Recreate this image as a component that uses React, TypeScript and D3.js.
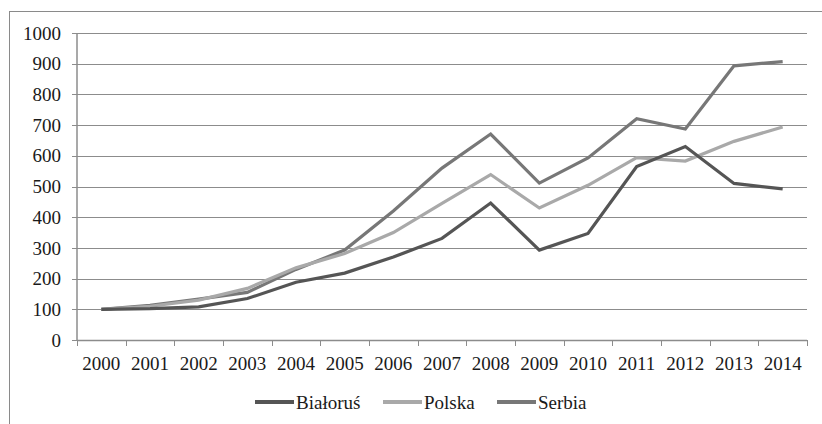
import { useEffect, useRef } from "react";
import * as d3 from "d3";

const years = ["2000", "2001", "2002", "2003", "2004", "2005", "2006", "2007", "2008", "2009", "2010", "2011", "2012", "2013", "2014"];
const bialorus = [100, 102, 108, 135, 188, 218, 270, 331, 446, 293, 347, 565, 630, 510, 492];
const polska = [100, 110, 130, 168, 235, 282, 350, 445, 539, 430, 504, 594, 583, 647, 694];
const serbia = [100, 113, 133, 155, 230, 293, 420, 560, 671, 511, 593, 721, 687, 893, 907];
const yTicks = [0, 100, 200, 300, 400, 500, 600, 700, 800, 900, 1000];

const seriesList = [
  { name: "Białoruś", values: bialorus, color: "#555555" },
  { name: "Polska", values: polska, color: "#a9a9a9" },
  { name: "Serbia", values: serbia, color: "#777777" },
];

export default function App() {
  const svgRef = useRef<SVGSVGElement | null>(null);

  useEffect(() => {
    if (!svgRef.current) return;
    const svg = d3.select(svgRef.current);
    svg.selectAll("*").remove();

    const width = 822;
    const height = 424;
    const left = 77;
    const right = 807;
    const top = 33;
    const bottom = 340;
    const font = "Liberation Serif";
    const fs = "19px";

    // outer frame, cut by the image on the right and bottom
    svg
      .append("rect")
      .attr("x", 9.5)
      .attr("y", 11.5)
      .attr("width", width + 20)
      .attr("height", height + 20)
      .attr("fill", "white")
      .attr("stroke", "#8a8a8a")
      .attr("stroke-width", 1);

    const x = d3.scaleBand<string>().domain(years).range([left, right]);
    const y = d3.scaleLinear().domain([0, 1000]).range([bottom, top]);

    // gridlines
    svg
      .append("g")
      .selectAll("line")
      .data(yTicks.filter((t) => t > 0))
      .join("line")
      .attr("x1", left)
      .attr("x2", right)
      .attr("y1", (d) => Math.round(y(d)) + 0.5)
      .attr("y2", (d) => Math.round(y(d)) + 0.5)
      .attr("stroke", "#8c8c8c")
      .attr("stroke-width", 1);

    // y axis
    const yAxis = svg.append("g").attr("transform", `translate(${left},0)`);
    yAxis
      .append("line")
      .attr("y1", top)
      .attr("y2", bottom)
      .attr("stroke", "#8c8c8c")
      .attr("stroke-width", 1.5);
    yAxis
      .selectAll("line.tk")
      .data(yTicks)
      .join("line")
      .attr("class", "tk")
      .attr("x1", -5)
      .attr("x2", 0)
      .attr("y1", (d) => Math.round(y(d)) + 0.5)
      .attr("y2", (d) => Math.round(y(d)) + 0.5)
      .attr("stroke", "#8c8c8c");
    yAxis
      .selectAll("text")
      .data(yTicks)
      .join("text")
      .attr("x", -16)
      .attr("y", (d) => y(d))
      .attr("dy", "0.35em")
      .attr("text-anchor", "end")
      .style("font-family", font)
      .style("font-size", fs)
      .attr("fill", "#1a1a1a")
      .text((d) => d);

    // x axis
    const xAxis = svg.append("g");
    xAxis
      .append("line")
      .attr("x1", left)
      .attr("x2", right)
      .attr("y1", bottom + 0.5)
      .attr("y2", bottom + 0.5)
      .attr("stroke", "#8c8c8c")
      .attr("stroke-width", 1.5);
    const bounds = years.map((d) => x(d) as number).concat([right]);
    xAxis
      .selectAll("line.tk")
      .data(bounds)
      .join("line")
      .attr("class", "tk")
      .attr("x1", (d) => Math.round(d) + 0.5)
      .attr("x2", (d) => Math.round(d) + 0.5)
      .attr("y1", bottom)
      .attr("y2", bottom + 6)
      .attr("stroke", "#8c8c8c");
    xAxis
      .selectAll("text")
      .data(years)
      .join("text")
      .attr("x", (d) => (x(d) as number) + x.bandwidth() / 2)
      .attr("y", bottom + 30)
      .attr("text-anchor", "middle")
      .style("font-family", font)
      .style("font-size", fs)
      .attr("fill", "#1a1a1a")
      .text((d) => d);

    // lines
    const line = d3
      .line<number>()
      .x((_, i) => (x(years[i]) as number) + x.bandwidth() / 2)
      .y((d) => y(d));

    const drawOrder = [seriesList[2], seriesList[1], seriesList[0]];
    svg
      .append("g")
      .selectAll("path")
      .data(drawOrder)
      .join("path")
      .attr("d", (s) => line(s.values))
      .attr("fill", "none")
      .attr("stroke", (s) => s.color)
      .attr("stroke-width", 3.2)
      .attr("stroke-linejoin", "miter");

    // legend
    const legendX = [255, 383, 497];
    const legend = svg
      .append("g")
      .selectAll("g")
      .data(seriesList)
      .join("g")
      .attr("transform", (_, i) => `translate(${legendX[i]},402)`);
    legend
      .append("line")
      .attr("x1", 0)
      .attr("x2", 39)
      .attr("stroke", (s) => s.color)
      .attr("stroke-width", 4);
    legend
      .append("text")
      .attr("x", 41)
      .attr("dy", "0.35em")
      .style("font-family", font)
      .style("font-size", fs)
      .attr("fill", "#1a1a1a")
      .text((s) => s.name);
  }, []);

  return (
    <svg
      ref={svgRef}
      width={822}
      height={424}
      style={{ position: "absolute", left: 0, top: 0, background: "white" }}
    />
  );
}
